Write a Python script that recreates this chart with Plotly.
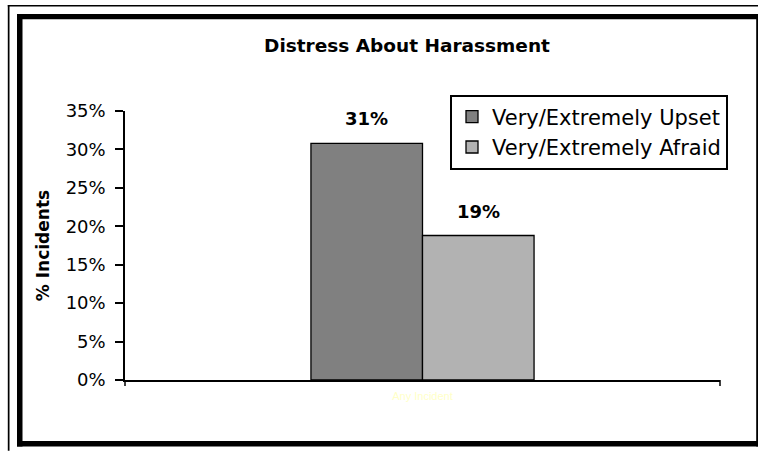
import plotly.graph_objects as go

categories = ["Any Incident"]
series_names = ["Very/Extremely Upset", "Very/Extremely Afraid"]
upset_values = [0.308]
afraid_values = [0.188]
colors = ["#808080", "#b2b2b2"]
y_ticks = [0, 0.05, 0.10, 0.15, 0.20, 0.25, 0.30, 0.35]

W, H = 758, 451
L, R, T, B = 125, 720, 110.5, 380
BARGAP = 0.625
FONT = "DejaVu Sans, Verdana, sans-serif"

def px(x):
    return (x - L) / (R - L)

def py(y):
    return (B - y) / (B - T)

fig = go.Figure()
all_vals = [upset_values, afraid_values]
for name, vals, col in zip(series_names, all_vals, colors):
    fig.add_trace(go.Bar(
        x=categories, y=vals, name=name,
        marker=dict(color=col, line=dict(color="black", width=1.3)),
    ))

# value labels above bars (offset computed from group geometry)
bar_px = (R - L) / len(categories) * (1 - BARGAP) / len(all_vals)
annotations = []
for i, vals in enumerate(all_vals):
    shift = (i - (len(all_vals) - 1) / 2) * bar_px
    for c, v in zip(categories, vals):
        annotations.append(dict(
            x=c, y=v, xref="x", yref="y", text=f"<b>{v:.0%}</b>", showarrow=False,
            xshift=shift, yshift=12, yanchor="bottom",
            font=dict(family=FONT, size=18, color="black"),
        ))

shapes = []
# thin outer lines
shapes.append(dict(type="rect", xref="paper", yref="paper",
                   x0=px(7.8), x1=px(9.5), y0=py(451), y1=py(4.2), fillcolor="black", line_width=0, layer="above"))
shapes.append(dict(type="rect", xref="paper", yref="paper",
                   x0=px(7.8), x1=px(758), y0=py(5.9), y1=py(4.2), fillcolor="black", line_width=0, layer="above"))
# thick frame
shapes.append(dict(type="rect", xref="paper", yref="paper",
                   x0=px(17), x1=px(22.5), y0=py(446.5), y1=py(13.3), fillcolor="black", line_width=0, layer="above"))
shapes.append(dict(type="rect", xref="paper", yref="paper",
                   x0=px(17), x1=px(758), y0=py(18.5), y1=py(13.3), fillcolor="black", line_width=0, layer="above"))
shapes.append(dict(type="rect", xref="paper", yref="paper",
                   x0=px(17), x1=px(758), y0=py(446.5), y1=py(441), fillcolor="black", line_width=0, layer="above"))
shapes.append(dict(type="rect", xref="paper", yref="paper",
                   x0=px(756.2), x1=px(758), y0=py(446.5), y1=py(13.3), fillcolor="black", line_width=0, layer="above"))
# x-axis end ticks
shapes.append(dict(type="line", xref="paper", yref="paper",
                   x0=0, x1=0, y0=0, y1=py(386), line=dict(color="black", width=1.5)))
shapes.append(dict(type="line", xref="paper", yref="paper",
                   x0=1, x1=1, y0=0, y1=py(386), line=dict(color="black", width=1.5)))

fig.update_layout(
    width=W, height=H,
    margin=dict(l=L, r=W - R, t=T, b=H - B, pad=0),
    paper_bgcolor="white", plot_bgcolor="white",
    barmode="group", bargap=BARGAP, bargroupgap=0,
    font=dict(family=FONT, size=18, color="black"),
    title=dict(text="<b>Distress About Harassment</b>", x=407 / W, xanchor="center",
               y=1 - 46 / H, yanchor="middle",
               font=dict(family=FONT, size=18.5, color="black")),
    showlegend=True,
    legend=dict(x=px(450), y=py(94), xanchor="left", yanchor="top",
                bordercolor="black", borderwidth=2, bgcolor="white",
                font=dict(family=FONT, size=21, color="black"),
                itemwidth=30, tracegroupgap=0,
                entrywidthmode="pixels", entrywidth=255),
    annotations=annotations,
    shapes=shapes,
    yaxis=dict(range=[0, 0.35], tickvals=y_ticks, tickformat=".0%",
               showgrid=False, zeroline=False, showline=True, linecolor="black", linewidth=1.5,
               ticks="outside", ticklen=8, tickwidth=1.5, tickcolor="black",
               ticklabelstandoff=6,
               tickfont=dict(family=FONT, size=18, color="black"),
               title=dict(text="<b>% Incidents</b>", standoff=12,
                          font=dict(family=FONT, size=17, color="black"))),
    xaxis=dict(showgrid=False, zeroline=False, showline=True, linecolor="black", linewidth=1.5,
               ticks="", ticklabelstandoff=5,
               tickfont=dict(family="Liberation Sans, Arial", size=11, color="#ffffc8")),
)

fig.write_html("out.html", config={"displayModeBar": False},
               post_script="document.body.style.margin='0';")
